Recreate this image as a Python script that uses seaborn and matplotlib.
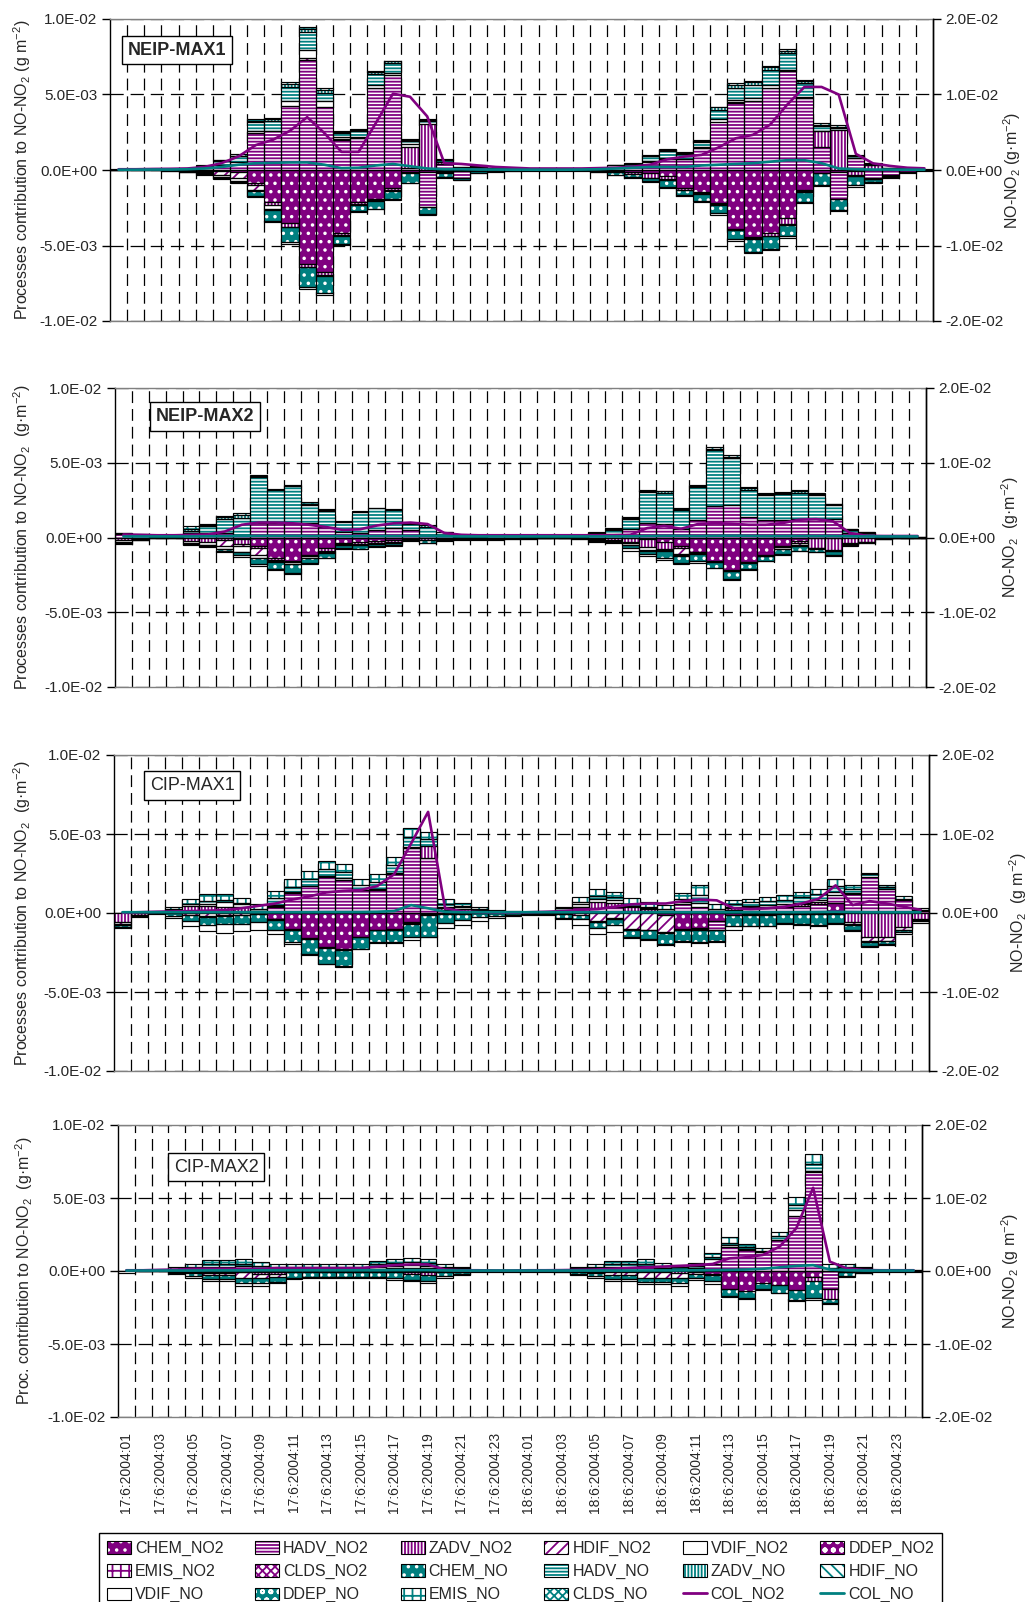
import numpy as np
import matplotlib
matplotlib.use("Agg")
import matplotlib.pyplot as plt
import seaborn as sns
from matplotlib.patches import Patch
from matplotlib.lines import Line2D
from matplotlib.ticker import FixedLocator, FuncFormatter

# ---------------------------------------------------------------------------
# Hourly time steps, 17-18 June 2004
HOURS = [
    "17:6:2004:01", "17:6:2004:02", "17:6:2004:03", "17:6:2004:04", "17:6:2004:05", "17:6:2004:06",
    "17:6:2004:07", "17:6:2004:08", "17:6:2004:09", "17:6:2004:10", "17:6:2004:11", "17:6:2004:12",
    "17:6:2004:13", "17:6:2004:14", "17:6:2004:15", "17:6:2004:16", "17:6:2004:17", "17:6:2004:18",
    "17:6:2004:19", "17:6:2004:20", "17:6:2004:21", "17:6:2004:22", "17:6:2004:23", "17:6:2004:24",
    "18:6:2004:01", "18:6:2004:02", "18:6:2004:03", "18:6:2004:04", "18:6:2004:05", "18:6:2004:06",
    "18:6:2004:07", "18:6:2004:08", "18:6:2004:09", "18:6:2004:10", "18:6:2004:11", "18:6:2004:12",
    "18:6:2004:13", "18:6:2004:14", "18:6:2004:15", "18:6:2004:16", "18:6:2004:17", "18:6:2004:18",
    "18:6:2004:19", "18:6:2004:20", "18:6:2004:21", "18:6:2004:22", "18:6:2004:23", "18:6:2004:24",
]

# Values below are in 1e-3 g m-2
UNIT = 1e-3

# ---------------------------- NEIP-MAX1 ------------------------------------
P1_CHEM_NO2 = [0, 0, 0, -0.03, -0.05, -0.05, -0.05, -0.1, -0.85, -2.1, -3.5, -6.25, -6.75, -4.2, -2.1, -1.9, -1.2, -0.15, -0.1, -0.05, -0.05, -0.02, 0, 0,
               0, 0, 0, 0, -0.02, -0.05, -0.1, -0.2, -0.4, -1.2, -1.45, -2.2, -3.9, -4.45, -4.2, -3.2, -1.35, -0.2, -0.1, -0.05, -0.02, 0, 0, 0]
P1_HADV_NO2 = [0.02, 0.02, 0.03, 0.03, 0.05, 0.12, 0.3, 0.55, 2.45, 2.55, 4.25, 7.3, 4.15, 2.0, 2.1, 5.45, 6.3, 0.1, -2.35, 0.4, -0.45, 0.2, 0.1, 0.05,
               0.02, 0.02, 0.02, 0.02, 0.05, 0.15, 0.25, 0.55, 0.75, 0.7, 1.45, 3.2, 4.45, 4.55, 5.45, 6.55, 4.8, 1.55, -1.8, 0.8, -0.5, -0.35, -0.1, 0.03]
P1_ZADV_NO2 = [0, 0, 0, 0, 0, 0, 0, 0, -0.15, -0.2, -0.25, -0.15, -0.2, -0.1, -0.15, -0.1, -0.15, 1.45, 3.05, 0.15, 0.1, 0.05, 0, 0,
               0, 0, 0, 0, -0.03, -0.1, -0.15, -0.3, -0.2, -0.1, -0.1, -0.05, -0.05, -0.05, -0.15, -0.4, -0.05, 1.0, 2.65, -0.3, 0.3, 0.1, 0.05, 0]
P1_HDIF_NO2 = [0, 0, 0, 0, -0.02, -0.1, -0.3, -0.4, -0.35, 0, 0, 0.1, 0, 0.05, 0, 0, 0, 0, 0, 0, 0, 0, 0, 0,
               0, 0, 0, 0, 0, 0, 0, 0, 0, 0, 0, 0, 0.05, 0.05, 0, 0, 0, 0, 0, 0, 0, 0, 0, 0]
P1_VDIF_NO2 = [0, 0, 0, 0, -0.03, -0.05, -0.1, -0.2, 0.1, -0.3, 0.3, 0.55, 0.4, 0.15, 0.1, 0.15, 0.1, 0.15, 0, -0.1, -0.05, -0.05, -0.03, -0.02,
               0, 0, 0, 0, 0, 0, 0, 0.05, 0.05, 0.05, 0.05, 0.15, 0.15, 0.2, 0.15, 0.1, 0.05, 0.05, 0, -0.05, -0.05, -0.03, 0, 0]
P1_DDEP_NO2 = [0, 0, 0, 0, 0, 0, 0, 0, -0.05, -0.05, -0.05, -0.05, -0.05, -0.05, -0.05, -0.05, -0.05, -0.03, -0.03, -0.02, 0, 0, 0, 0,
               0, 0, 0, 0, 0, 0, -0.02, -0.03, -0.05, -0.05, -0.05, -0.05, -0.05, -0.05, -0.05, -0.05, -0.05, -0.03, -0.03, -0.02, -0.02, 0, 0, 0]
P1_CHEM_NO = [0, 0, 0, -0.03, -0.03, -0.05, -0.1, -0.1, -0.3, -0.7, -1.0, -1.3, -1.15, -0.55, -0.4, -0.5, -0.55, -0.65, -0.45, -0.3, -0.1, -0.1, -0.05, -0.03,
              -0.03, -0.03, -0.03, -0.03, -0.05, -0.15, -0.2, -0.2, -0.45, -0.3, -0.45, -0.55, -0.6, -0.85, -0.8, -0.75, -0.65, -0.75, -0.7, -0.6, -0.2, -0.1, -0.05, -0.03]
P1_HADV_NO = [0, 0, 0, 0.03, 0.03, 0.15, 0.3, 0.35, 0.6, 0.7, 0.95, 1.2, 0.55, 0.25, 0.4, 0.75, 0.7, 0.25, 0.2, 0.1, 0.05, 0.03, 0.02, 0.02,
              0, 0, 0, 0, 0.03, 0.15, 0.15, 0.3, 0.45, 0.3, 0.35, 0.65, 0.8, 0.8, 1.0, 1.1, 0.9, 0.3, 0.15, 0.1, 0.05, 0.02, 0, 0]
P1_ZADV_NO = [0, 0, 0, 0, 0, 0.02, 0.03, 0.05, 0.1, 0.1, 0.2, 0.2, 0.2, 0.05, 0.05, 0.15, 0.1, 0.05, 0.05, 0.03, 0.02, 0, 0, 0,
              0, 0, 0, 0, 0, 0.02, 0.03, 0.05, 0.1, 0.1, 0.1, 0.15, 0.2, 0.2, 0.2, 0.15, 0.15, 0.1, 0.05, 0.02, 0.02, 0, 0, 0]
P1_VDIF_NO = [-0.02, -0.02, -0.03, -0.03, -0.03, -0.05, -0.05, -0.05, -0.1, -0.1, -0.1, -0.1, -0.1, -0.05, -0.05, -0.05, -0.05, -0.05, -0.05, -0.05, -0.03, -0.03, -0.02, -0.02,
              -0.02, -0.02, -0.02, -0.02, -0.02, -0.05, -0.08, -0.07, -0.1, -0.1, -0.1, -0.1, -0.1, -0.1, -0.1, -0.1, -0.1, -0.1, -0.07, -0.1, -0.05, -0.05, -0.03, -0.02]
P1_EMIS_NO = [0.03, 0.03, 0.03, 0.02, 0.02, 0.03, 0.05, 0.1, 0.15, 0.1, 0.1, 0.1, 0.1, 0.05, 0.05, 0.05, 0.05, 0.05, 0.05, 0.05, 0.05, 0.05, 0.03, 0.03,
              0.03, 0.03, 0.03, 0.03, 0.02, 0.03, 0.05, 0.05, 0.05, 0.05, 0.05, 0.05, 0.1, 0.1, 0.1, 0.1, 0.05, 0.1, 0.15, 0.08, 0.08, 0.03, 0.05, 0.02]
P1_COL_NO2 = [0.1, 0.1, 0.14, 0.16, 0.2, 0.4, 0.9, 1.8, 3.3, 4.0, 5.2, 7.0, 4.9, 2.4, 2.4, 6.2, 10.1, 9.7, 7.1, 0.9, 0.8, 0.6, 0.4, 0.3,
              0.2, 0.2, 0.2, 0.2, 0.25, 0.3, 0.44, 0.7, 1.42, 1.78, 2.0, 3.0, 4.2, 4.66, 6.0, 8.66, 11.0, 11.0, 10.0, 2.14, 0.88, 0.54, 0.3, 0.22]
P1_COL_NO = [0.04, 0.04, 0.06, 0.06, 0.1, 0.2, 0.4, 0.7, 0.9, 0.95, 1.0, 1.0, 0.7, 0.25, 0.3, 0.6, 0.8, 0.5, 0.2, 0.1, 0.1, 0.06, 0.06, 0.04,
             0.04, 0.04, 0.04, 0.06, 0.1, 0.2, 0.3, 0.4, 0.4, 0.4, 0.6, 0.7, 0.8, 0.9, 1.1, 1.3, 1.3, 0.9, 0.2, 0.1, 0.06, 0.06, 0.04, 0.04]

# ---------------------------- NEIP-MAX2 ------------------------------------
P2_CHEM_NO2 = [0, 0, 0, 0, 0, 0, -0.05, -0.1, -0.55, -1.4, -1.55, -1.2, -0.7, -0.35, -0.3, -0.25, -0.2, -0.05, -0.05, -0.03, 0, 0, 0, 0,
               0, 0, 0, 0, 0, 0, -0.05, -0.1, -0.3, -0.6, -0.95, -1.6, -2.2, -1.65, -1.2, -0.6, -0.25, -0.05, -0.05, 0, 0, 0, 0, 0]
P2_HADV_NO2 = [0.25, 0.2, 0.05, 0.05, 0.3, 0.3, 0.3, 0.2, 0.95, 1.0, 1.0, 0.95, 0.7, 0.35, 0.3, 0.5, 0.65, 0.5, 0.15, 0.15, 0.05, 0.05, 0.1, 0.1,
               0.02, 0.02, 0.02, 0.03, 0.15, 0.25, 0.6, 0.95, 0.9, 0.6, 1.15, 2.1, 2.15, 1.35, 1.15, 1.15, 1.25, 1.25, 1.25, 0.3, 0.15, 0.05, 0.02, 0.02]
P2_ZADV_NO2 = [-0.2, -0.1, 0, 0, -0.25, -0.3, -0.15, -0.35, -0.15, -0.1, -0.1, -0.05, -0.2, -0.1, -0.15, -0.1, -0.1, -0.05, -0.1, -0.05, -0.05, -0.05, -0.05, -0.03,
               -0.03, -0.01, -0.01, -0.03, -0.1, -0.2, -0.25, -0.55, -0.45, -0.1, -0.05, 0, 0, 0, 0, -0.05, -0.1, -0.65, -0.8, -0.35, -0.3, -0.05, -0.02, -0.02]
P2_HDIF_NO2 = [0, 0, 0, 0, 0, 0, -0.35, -0.1, -0.45, 0, 0, 0, 0, 0, 0, 0, 0, 0, 0, 0, 0, 0, 0, 0,
               0, 0, 0, 0, 0, 0, -0.1, 0, 0, -0.4, 0, 0, 0, 0, 0, 0, -0.15, 0, 0, 0, 0, 0, 0, 0]
P2_VDIF_NO2 = [-0.1, -0.05, 0, 0, -0.1, -0.2, -0.2, -0.4, -0.2, -0.1, -0.1, -0.1, -0.1, -0.05, -0.05, -0.05, -0.05, -0.05, -0.05, -0.05, -0.03, -0.03, -0.03, -0.02,
               -0.02, -0.01, -0.01, -0.02, -0.05, -0.05, -0.1, -0.2, -0.1, -0.1, -0.05, -0.02, -0.03, -0.02, -0.02, -0.1, -0.05, -0.02, -0.03, -0.1, -0.03, -0.02, -0.01, -0.01]
P2_DDEP_NO2 = [0, 0, 0, 0, 0, -0.02, -0.05, -0.05, -0.05, -0.05, -0.05, -0.05, -0.05, -0.02, -0.02, -0.02, -0.02, 0, 0, 0, 0, 0, 0, 0,
               0, 0, 0, 0, 0, 0, -0.03, -0.03, -0.05, -0.05, -0.05, -0.02, -0.02, -0.02, -0.03, -0.05, -0.05, -0.02, -0.02, 0, 0, 0, 0, 0]
P2_CHEM_NO = [-0.05, -0.03, -0.03, -0.03, -0.1, -0.08, -0.1, -0.2, -0.4, -0.45, -0.55, -0.3, -0.3, -0.18, -0.23, -0.18, -0.13, -0.05, -0.15, -0.07, -0.04, -0.04, -0.04, -0.03,
              -0.03, -0.02, -0.02, -0.03, -0.1, -0.08, -0.2, -0.25, -0.5, -0.45, -0.45, -0.4, -0.55, -0.45, -0.3, -0.33, -0.28, -0.2, -0.28, -0.06, -0.03, -0.02, -0.01, -0.01]
P2_HADV_NO = [0.05, 0.03, 0.03, 0.03, 0.15, 0.45, 0.95, 1.1, 3.1, 2.2, 2.45, 1.2, 1.1, 0.7, 1.4, 1.45, 1.2, 0.4, 0.55, 0.2, 0.05, 0.05, 0.05, 0.03,
              0.02, 0.02, 0.02, 0.04, 0.12, 0.28, 0.65, 2.1, 2.1, 1.25, 2.2, 3.75, 3.15, 1.85, 1.7, 1.75, 1.75, 1.6, 0.9, 0.2, 0.15, 0.03, 0.02, 0.02]
P2_ZADV_NO = [0, 0, 0, 0, 0.15, 0.1, 0.15, 0.2, 0.05, 0, 0, 0.1, 0.05, 0.05, 0.05, 0.05, 0.05, 0.1, 0.15, 0.05, 0.05, 0.05, 0.05, 0.02,
              0, 0, 0, 0.01, 0.03, 0.05, 0.05, 0.06, 0.09, 0.07, 0.1, 0.1, 0.1, 0.1, 0.08, 0.08, 0.1, 0.08, 0.06, 0.05, 0.05, 0.01, 0, 0]
P2_VDIF_NO = [-0.1, -0.02, -0.02, -0.02, -0.05, -0.05, -0.1, -0.1, -0.1, -0.1, -0.1, -0.05, -0.05, -0.05, -0.05, -0.05, -0.05, -0.05, -0.05, -0.05, -0.03, -0.03, -0.03, -0.02,
              -0.02, -0.01, -0.01, -0.02, -0.05, -0.05, -0.15, -0.1, -0.1, -0.07, -0.14, -0.02, -0.05, -0.03, -0.02, -0.04, -0.04, -0.05, -0.03, -0.05, -0.02, -0.01, -0.01, -0.01]
P2_EMIS_NO = [0.03, 0.02, 0.02, 0.02, 0.15, 0.05, 0.05, 0.15, 0.05, 0.05, 0.05, 0.1, 0.05, 0, 0, 0, 0, 0, 0, 0, 0, 0, 0, 0,
              0.01, 0.01, 0.01, 0.02, 0.05, 0.05, 0.05, 0.05, 0.05, 0.05, 0.05, 0.1, 0.1, 0.06, 0.05, 0.05, 0.06, 0.05, 0.05, 0.03, 0.05, 0.01, 0.01, 0.01]
P2_COL_NO2 = [0.4, 0.35, 0.3, 0.3, 0.35, 0.4, 0.8, 1.7, 2.0, 2.0, 1.9, 1.7, 1.4, 1.0, 1.1, 1.6, 1.9, 2.0, 1.8, 0.6, 0.36, 0.3, 0.3, 0.3,
              0.3, 0.3, 0.3, 0.3, 0.3, 0.3, 0.36, 1.26, 1.56, 1.16, 1.8, 1.92, 1.84, 1.7, 1.7, 1.92, 2.38, 2.46, 2.16, 0.6, 0.22, 0.2, 0.2, 0.2]
P2_COL_NO = [0.14, 0.14, 0.14, 0.14, 0.14, 0.16, 0.18, 0.2, 0.22, 0.22, 0.22, 0.2, 0.2, 0.18, 0.18, 0.2, 0.2, 0.2, 0.2, 0.16, 0.14, 0.14, 0.14, 0.14,
             0.14, 0.14, 0.14, 0.14, 0.14, 0.14, 0.16, 0.2, 0.22, 0.22, 0.2, 0.22, 0.24, 0.22, 0.2, 0.2, 0.2, 0.2, 0.2, 0.16, 0.14, 0.14, 0.14, 0.14]

# ---------------------------- CIP-MAX1 -------------------------------------
P3_CHEM_NO2 = [0, 0, 0, 0, 0, 0, 0, 0, 0, -0.4, -1.0, -1.6, -2.15, -2.3, -1.5, -1.05, -1.0, -0.55, -0.05, 0, 0, 0, 0, 0,
               0, 0, 0, 0, 0, 0, 0, 0, -0.1, -1.0, -0.95, -0.5, -0.1, -0.05, -0.05, 0, 0, 0, 0.65, 0, 0, 0, 0, 0]
P3_HADV_NO2 = [0, 0.02, 0.02, 0.05, 0.1, 0.1, 0.1, 0.1, 0.1, 0.35, 1.25, 1.7, 2.3, 2.1, 1.45, 1.45, 2.45, 4.1, 3.5, 0.2, 0.15, 0.1, 0.05, 0.03,
               0.02, 0.02, 0.1, 0.35, 0.3, 0.35, 0.1, 0.1, 0.05, 0.55, 0.4, -0.55, 0.2, 0.25, 0.3, 0.35, 0.45, 0.6, 0.5, 1.2, 2.3, 1.55, 0.8, 0.15]
P3_ZADV_NO2 = [-0.6, -0.1, 0, 0.1, 0.35, 0.35, 0.3, 0.3, 0.05, 0.1, 0, 0, 0, 0, 0, 0, 0, 0, 0.75, 0.1, 0.1, 0.05, 0.02, 0.02,
               0, 0, 0.05, 0.05, 0.4, 0.3, 0.3, 0.15, 0.05, 0, 0, 0.1, 0.1, 0.1, 0.1, 0.1, 0.1, 0.1, 0, -0.6, -1.5, -1.5, -0.9, -0.4]
P3_HDIF_NO2 = [-0.1, 0, 0, 0, -0.1, -0.2, -0.15, -0.1, 0, 0, 0, 0, 0, 0, 0, 0, 0, -0.1, 0, 0, 0, 0, 0, 0,
               0, 0, -0.05, -0.1, -0.5, -0.3, -1.0, -1.05, -1.1, 0, -0.05, 0, 0, 0, 0, 0, 0, 0, 0, -0.1, -0.3, -0.25, -0.15, -0.05]
P3_VDIF_NO2 = [0, 0, 0, 0.03, 0.1, 0.15, 0.3, 0.2, 0, 0.05, 0.1, 0, 0.05, 0.1, 0, 0.1, 0.1, 0.1, 0, 0.1, 0.1, 0.05, 0.03, 0.02,
               0, 0, 0.05, 0.15, 0.2, 0.2, 0.05, 0.05, 0.05, 0.15, 0.25, 0.05, 0.1, 0.1, 0.1, 0.1, 0.1, 0.15, 0.2, 0.05, 0, 0, 0, 0]
P3_DDEP_NO2 = [-0.05, 0, 0, -0.02, -0.05, -0.05, -0.05, -0.05, -0.05, -0.05, -0.05, -0.05, -0.05, -0.05, -0.05, -0.05, -0.05, -0.05, -0.05, -0.05, -0.05, -0.02, -0.02, -0.02,
               0, 0, 0, 0, -0.05, -0.05, -0.05, -0.05, -0.05, -0.05, -0.05, -0.05, -0.05, -0.05, -0.05, -0.05, -0.05, -0.05, -0.05, -0.05, -0.05, -0.05, -0.05, 0]
P3_CHEM_NO = [-0.15, -0.1, -0.03, -0.2, -0.35, -0.5, -0.5, -0.55, -0.55, -0.65, -0.8, -0.95, -1.0, -1.0, -0.7, -0.75, -0.8, -0.8, -1.4, -0.6, -0.4, -0.25, -0.15, -0.08,
              -0.07, -0.07, -0.25, -0.3, -0.4, -0.4, -0.5, -0.55, -0.7, -0.75, -0.8, -0.7, -0.7, -0.7, -0.7, -0.6, -0.65, -0.7, -0.6, -0.3, -0.25, -0.15, -0.1, -0.08]
P3_HADV_NO = [0, 0.02, 0.02, 0.07, 0.05, 0.15, 0.1, 0.05, 0.1, 0.45, 0.3, 0.45, 0.45, 0.4, 0.3, 0.4, 0.5, 0.6, 0.45, 0.2, 0.1, 0.05, 0.05, 0.02,
              0.02, 0.02, 0.1, 0.15, 0.2, 0.15, 0.15, 0.1, 0.1, 0.2, 0.5, 0.1, 0.2, 0.25, 0.25, 0.3, 0.35, 0.35, 0.35, 0.25, 0.15, 0.1, 0.1, 0.05]
P3_VDIF_NO = [-0.05, -0.05, -0.02, -0.1, -0.3, -0.4, -0.55, -0.45, -0.45, -0.2, -0.1, -0.05, -0.05, -0.05, -0.05, -0.05, -0.05, -0.2, -0.05, -0.3, -0.3, -0.25, -0.15, -0.1,
              -0.03, -0.03, -0.1, -0.35, -0.35, -0.45, -0.05, -0.05, -0.05, -0.05, -0.05, -0.05, -0.2, -0.05, -0.05, -0.05, -0.05, -0.05, -0.05, -0.1, -0.05, -0.05, -0.1, -0.1]
P3_EMIS_NO = [0, 0.01, 0.01, 0.1, 0.3, 0.45, 0.4, 0.3, 0.3, 0.45, 0.5, 0.5, 0.5, 0.5, 0.4, 0.5, 0.5, 0.6, 0.45, 0.3, 0.2, 0.1, 0.05, 0.01,
              0.01, 0.01, 0.05, 0.3, 0.4, 0.3, 0.35, 0.3, 0.25, 0.35, 0.65, 0.3, 0.2, 0.2, 0.25, 0.3, 0.3, 0.3, 0.45, 0.3, 0.1, 0.1, 0.15, 0.1]
P3_COL_NO2 = [0.04, 0.1, 0.16, 0.2, 0.24, 0.3, 0.36, 0.6, 0.9, 1.2, 1.7, 2.1, 2.6, 2.8, 2.9, 3.4, 4.9, 8.8, 12.8, 0.6, 0.2, 0.1, 0.06, 0.04,
              0.1, 0.16, 0.24, 0.4, 0.5, 0.8, 1.1, 1.2, 1.2, 1.5, 1.7, 1.6, 0.6, 0.5, 0.6, 0.8, 1.2, 1.8, 3.5, 1.0, 1.5, 1.2, 0.8, 0.4]
P3_COL_NO = [0.1, 0.1, 0.1, 0.1, 0.1, 0.1, 0.1, 0.1, 0.1, 0.1, 0.1, 0.1, 0.12, 0.12, 0.12, 0.15, 0.25, 1.0, 0.6, 0.15, 0.1, 0.1, 0.1, 0.1,
             0.1, 0.1, 0.1, 0.1, 0.1, 0.1, 0.1, 0.1, 0.1, 0.1, 0.1, 0.1, 0.1, 0.1, 0.1, 0.1, 0.1, 0.12, 0.15, 0.12, 0.1, 0.1, 0.1, 0.1]

# ---------------------------- CIP-MAX2 -------------------------------------
P4_CHEM_NO2 = [0, 0, 0, 0, 0, -0.05, -0.05, -0.05, -0.05, -0.05, 0, 0, 0, 0, 0, 0, 0, -0.05, -0.05, 0, 0, 0, 0, 0,
               0, 0, 0, 0, 0, 0, 0, 0, 0, 0, 0, -0.2, -1.2, -1.35, -0.8, -0.95, -1.3, -0.4, 0, 0, 0, 0, 0, 0]
P4_HADV_NO2 = [0, 0.01, 0.01, 0.05, 0.1, 0.15, 0.15, 0.2, 0.1, 0.1, 0.1, 0.1, 0.1, 0.1, 0.1, 0.15, 0.2, 0.2, 0.2, 0.1, 0.05, 0.02, 0.02, 0.02,
               0.01, 0.01, 0.03, 0.1, 0.15, 0.2, 0.2, 0.25, 0.15, 0.1, 0.15, 0.5, 1.65, 1.45, 1.3, 2.1, 3.75, 6.8, -1.2, 0.1, 0.1, 0.02, 0.02, 0.02]
P4_ZADV_NO2 = [0, 0, 0, -0.05, -0.1, -0.1, -0.1, -0.05, -0.15, -0.15, -0.1, -0.05, -0.05, -0.05, -0.05, -0.05, -0.1, -0.15, -0.2, -0.1, -0.05, 0, 0, 0,
               0, 0, -0.02, -0.05, -0.05, -0.1, -0.1, -0.1, -0.1, -0.15, -0.1, -0.1, 0, 0, 0, 0, 0, -0.3, -0.75, -0.1, -0.05, 0, 0, 0]
P4_HDIF_NO2 = [0, 0, 0, 0, -0.05, -0.1, -0.1, -0.4, -0.3, -0.2, 0, 0, 0, 0, 0, 0, 0, 0, 0, 0, 0, 0, 0, 0,
               0, 0, 0, 0, -0.1, -0.2, -0.2, -0.35, -0.35, -0.35, -0.1, 0, 0, 0, 0, 0, 0, 0, 0, 0, 0, 0, 0, 0]
P4_VDIF_NO2 = [0, 0, 0, 0.05, 0.1, 0.15, 0.15, 0.15, 0.1, 0.05, 0.05, 0.05, 0.05, 0.05, 0.05, 0.1, 0.15, 0.2, 0.15, 0.1, 0.05, 0, 0, 0,
               0, 0, 0.02, 0.05, 0.05, 0.1, 0.1, 0.1, 0.07, 0.05, 0.07, 0.3, 0.15, 0.05, 0.03, 0.05, 0.45, 0.03, 0.03, 0.03, 0, 0, 0, 0]
P4_CHEM_NO = [0, -0.01, -0.01, -0.1, -0.2, -0.3, -0.3, -0.35, -0.35, -0.35, -0.35, -0.35, -0.35, -0.35, -0.35, -0.35, -0.4, -0.4, -0.45, -0.25, -0.15, -0.02, -0.02, -0.02,
              -0.03, -0.03, -0.05, -0.15, -0.2, -0.25, -0.25, -0.3, -0.3, -0.35, -0.3, -0.4, -0.5, -0.5, -0.45, -0.55, -0.7, -1.15, -0.25, -0.24, -0.08, -0.03, -0.03, -0.03]
P4_HADV_NO = [0, 0.01, 0.01, 0.05, 0.1, 0.15, 0.15, 0.15, 0.15, 0.1, 0.1, 0.15, 0.15, 0.15, 0.15, 0.2, 0.2, 0.2, 0.2, 0.1, 0.1, 0.02, 0.02, 0.02,
              0.01, 0.01, 0.02, 0.05, 0.1, 0.15, 0.15, 0.15, 0.1, 0.1, 0.1, 0.16, 0.15, 0.11, 0.07, 0.25, 0.35, 0.5, 0.2, 0.15, 0.1, 0.02, 0.02, 0.02]
P4_VDIF_NO = [-0.15, -0.01, -0.01, -0.05, -0.1, -0.15, -0.15, -0.15, -0.15, -0.1, -0.1, -0.1, -0.1, -0.1, -0.1, -0.1, -0.1, -0.1, -0.1, -0.1, -0.05, -0.03, -0.03, -0.03,
              -0.02, -0.02, -0.03, -0.1, -0.1, -0.12, -0.12, -0.15, -0.15, -0.15, -0.12, -0.2, -0.07, -0.08, -0.05, -0.04, -0.04, -0.15, -0.07, -0.1, -0.03, -0.02, -0.02, -0.02]
P4_EMIS_NO = [0, 0, 0, 0.1, 0.2, 0.3, 0.3, 0.35, 0.25, 0.2, 0.2, 0.2, 0.2, 0.2, 0.2, 0.25, 0.3, 0.3, 0.25, 0.15, 0.1, 0.01, 0.01, 0.01,
              0, 0, 0.03, 0.1, 0.2, 0.25, 0.25, 0.3, 0.25, 0.15, 0.25, 0.3, 0.41, 0.25, 0.2, 0.3, 0.5, 0.7, 0.25, 0.2, 0.1, 0.01, 0.01, 0.01]
P4_COL_NO2 = [0.1, 0.1, 0.16, 0.2, 0.3, 0.3, 0.3, 0.3, 0.3, 0.4, 0.4, 0.4, 0.4, 0.4, 0.4, 0.6, 0.8, 0.9, 0.9, 0.2, 0.1, 0.1, 0.06, 0.06,
              0.1, 0.1, 0.12, 0.16, 0.2, 0.3, 0.4, 0.5, 0.6, 0.7, 0.8, 0.96, 1.74, 1.88, 2.2, 3.34, 5.88, 11.4, 1.28, 0.36, 0.14, 0.1, 0.1, 0.1]
P4_COL_NO = [0.06, 0.06, 0.06, 0.06, 0.06, 0.08, 0.08, 0.08, 0.1, 0.1, 0.1, 0.1, 0.1, 0.1, 0.1, 0.1, 0.12, 0.12, 0.12, 0.08, 0.06, 0.06, 0.06, 0.06,
             0.06, 0.06, 0.06, 0.06, 0.06, 0.06, 0.06, 0.08, 0.08, 0.08, 0.1, 0.12, 0.15, 0.2, 0.3, 0.5, 0.7, 0.8, 0.2, 0.1, 0.06, 0.06, 0.06, 0.06]

# ---------------------------------------------------------------------------
PURPLE = "#800080"
TEAL = "#008080"

# process name -> (face colour, hatch, hatch colour); also the stacking order
STYLE = {
    "CHEM_NO2": (PURPLE, "..", "white"),
    "HADV_NO2": ("white", "-----", PURPLE),
    "ZADV_NO2": ("white", "|||||", PURPLE),
    "HDIF_NO2": ("white", "///", PURPLE),
    "VDIF_NO2": ("white", None, "white"),
    "DDEP_NO2": (PURPLE, "oo", "white"),
    "EMIS_NO2": ("white", "++", PURPLE),
    "CLDS_NO2": ("white", "xxxx", PURPLE),
    "CHEM_NO": (TEAL, "..", "white"),
    "HADV_NO": ("white", "-----", TEAL),
    "ZADV_NO": ("white", "|||||", TEAL),
    "HDIF_NO": ("white", "\\\\\\", TEAL),
    "VDIF_NO": ("white", None, "white"),
    "DDEP_NO": (TEAL, "oo", "white"),
    "EMIS_NO": ("white", "++", TEAL),
    "CLDS_NO": ("white", "xxxx", TEAL),
}
ORDER = list(STYLE.keys())

PANELS = [
    dict(title="NEIP-MAX1", bold=True, frame=(110, 933, 19, 321), box=(0.081, 0.897),
         ylabel="Processes contribution to NO-NO$_2$ (g m$^{-2}$)",
         rlabel="NO-NO$_2$ (g·m$^{-2}$)", lx=22, rx=1012,
         series={"CHEM_NO2": P1_CHEM_NO2, "HADV_NO2": P1_HADV_NO2, "ZADV_NO2": P1_ZADV_NO2,
                 "HDIF_NO2": P1_HDIF_NO2, "VDIF_NO2": P1_VDIF_NO2, "DDEP_NO2": P1_DDEP_NO2,
                 "CHEM_NO": P1_CHEM_NO, "HADV_NO": P1_HADV_NO, "ZADV_NO": P1_ZADV_NO,
                 "VDIF_NO": P1_VDIF_NO, "EMIS_NO": P1_EMIS_NO},
         col_no2=P1_COL_NO2, col_no=P1_COL_NO),
    dict(title="NEIP-MAX2", bold=True, frame=(115, 926, 388, 687), box=(0.111, 0.905),
         ylabel="Processes contribution to NO-NO$_2$  (g·m$^{-2}$)",
         rlabel="NO-NO$_2$  (g·m$^{-2}$)", lx=22, rx=1010,
         series={"CHEM_NO2": P2_CHEM_NO2, "HADV_NO2": P2_HADV_NO2, "ZADV_NO2": P2_ZADV_NO2,
                 "HDIF_NO2": P2_HDIF_NO2, "VDIF_NO2": P2_VDIF_NO2, "DDEP_NO2": P2_DDEP_NO2,
                 "CHEM_NO": P2_CHEM_NO, "HADV_NO": P2_HADV_NO, "ZADV_NO": P2_ZADV_NO,
                 "VDIF_NO": P2_VDIF_NO, "EMIS_NO": P2_EMIS_NO},
         col_no2=P2_COL_NO2, col_no=P2_COL_NO),
    dict(title="CIP-MAX1", bold=False, frame=(114, 929, 755, 1071), box=(0.096, 0.903),
         ylabel="Processes contribution to NO-NO$_2$  (g·m$^{-2}$)",
         rlabel="NO-NO$_2$  (g m$^{-2}$)", lx=22, rx=1018,
         series={"CHEM_NO2": P3_CHEM_NO2, "HADV_NO2": P3_HADV_NO2, "ZADV_NO2": P3_ZADV_NO2,
                 "HDIF_NO2": P3_HDIF_NO2, "VDIF_NO2": P3_VDIF_NO2, "DDEP_NO2": P3_DDEP_NO2,
                 "CHEM_NO": P3_CHEM_NO, "HADV_NO": P3_HADV_NO,
                 "VDIF_NO": P3_VDIF_NO, "EMIS_NO": P3_EMIS_NO},
         col_no2=P3_COL_NO2, col_no=P3_COL_NO),
    dict(title="CIP-MAX2", bold=False, frame=(118, 922, 1125, 1417), box=(0.122, 0.856),
         ylabel="Proc. contribution to NO-NO$_2$  (g·m$^{-2}$)",
         rlabel="NO-NO$_2$ (g m$^{-2}$)", lx=24, rx=1010,
         series={"CHEM_NO2": P4_CHEM_NO2, "HADV_NO2": P4_HADV_NO2, "ZADV_NO2": P4_ZADV_NO2,
                 "HDIF_NO2": P4_HDIF_NO2, "VDIF_NO2": P4_VDIF_NO2,
                 "CHEM_NO": P4_CHEM_NO, "HADV_NO": P4_HADV_NO,
                 "VDIF_NO": P4_VDIF_NO, "EMIS_NO": P4_EMIS_NO},
         col_no2=P4_COL_NO2, col_no=P4_COL_NO),
]

# ---------------------------------------------------------------------------
sns.set_theme(style="white")
plt.rcParams["font.family"] = ["Liberation Sans", "DejaVu Sans"]
plt.rcParams.update({
    "mathtext.fontset": "custom",
    "mathtext.rm": "Liberation Sans",
    "mathtext.it": "Liberation Sans:italic",
    "mathtext.bf": "Liberation Sans:bold",
    "hatch.linewidth": 1.3,
    "lines.scale_dashes": False,
    "patch.force_edgecolor": False,
})

W, H = 1032, 1602
fig = plt.figure(figsize=(W / 100, H / 100), dpi=100)
fig.patch.set_facecolor("white")

X = np.arange(len(HOURS))
sci = FuncFormatter(lambda v, p: f"{v:.1E}")

for k, p in enumerate(PANELS):
    l, r, t, b = p["frame"]
    ax = fig.add_axes([l / W, 1 - b / H, (r - l) / W, (b - t) / H])
    ax.set_facecolor("white")
    ax.set_axisbelow(True)

    # stacked process contributions (positive up, negative down)
    pos = np.zeros(len(X))
    neg = np.zeros(len(X))
    for name in ORDER:
        if name not in p["series"]:
            continue
        vals = np.asarray(p["series"][name], dtype=float) * UNIT
        face, hatch, hcol = STYLE[name]
        base = np.where(vals >= 0, pos, neg)
        m = vals != 0
        ax.bar(X[m], vals[m], bottom=base[m], width=1.0, color=face, hatch=hatch,
               edgecolor=hcol, linewidth=0, zorder=2)
        ax.bar(X[m], vals[m], bottom=base[m], width=1.0, fill=False,
               edgecolor="black", linewidth=0.85, zorder=2.2)
        pos += np.where(vals > 0, vals, 0)
        neg += np.where(vals < 0, vals, 0)

    ax.axhline(0, color="black", lw=0.9, zorder=1.8)

    ax.set_xlim(-0.5, len(X) - 0.5)
    ax.set_ylim(-0.01, 0.01)
    ax.yaxis.set_major_locator(FixedLocator([-0.01, -0.005, 0.0, 0.005, 0.01]))
    ax.yaxis.set_major_formatter(sci)
    ax.grid(axis="y", which="major", color="black", lw=0.9, linestyle=(0, (9.5, 5)))
    ax.xaxis.set_minor_locator(FixedLocator(np.arange(0.5, len(X) - 1, 1.0)))
    ax.grid(axis="x", which="minor", color="black", lw=0.9, linestyle=(0, (8.5, 4.3)))
    ax.grid(axis="x", which="major", visible=False)
    ax.set_xticks(X[::2])
    ax.tick_params(axis="x", which="both", length=0)
    if k == len(PANELS) - 1:
        ax.set_xticklabels(HOURS[::2], rotation=90, fontsize=10, va="top", ha="center")
        ax.tick_params(axis="x", pad=11)
    else:
        ax.tick_params(axis="x", labelbottom=False)
    ax.tick_params(axis="y", which="major", direction="out", length=6, width=1,
                   color="black", labelsize=11, pad=3, left=True)

    for side in ("top", "bottom"):
        ax.spines[side].set_color("#808080")
        ax.spines[side].set_linewidth(1.0)
    for side in ("left", "right"):
        ax.spines[side].set_color("black")
        ax.spines[side].set_linewidth(1.0)

    ax.set_ylabel(p["ylabel"], fontsize=11.5)
    ax.yaxis.label.set_va("center")
    ax.yaxis.set_label_coords((p["lx"] - l) / (r - l), 0.5)

    ax.text(p["box"][0], p["box"][1], p["title"], transform=ax.transAxes,
            ha="center", va="center", fontsize=13,
            fontweight="bold" if p["bold"] else "normal", zorder=5,
            bbox=dict(boxstyle="square,pad=0.32", fc="white", ec="black", lw=1.0))

    # column burdens on the secondary axis
    ax2 = ax.twinx()
    sns.lineplot(x=X, y=np.asarray(p["col_no2"]) * UNIT, ax=ax2, color=PURPLE,
                 linewidth=1.9, estimator=None, sort=False, legend=False)
    sns.lineplot(x=X, y=np.asarray(p["col_no"]) * UNIT, ax=ax2, color=TEAL,
                 linewidth=1.9, estimator=None, sort=False, legend=False)
    ax2.set_ylim(-0.02, 0.02)
    ax2.set_xlim(-0.5, len(X) - 0.5)
    ax2.yaxis.set_major_locator(FixedLocator([-0.02, -0.01, 0.0, 0.01, 0.02]))
    ax2.yaxis.set_major_formatter(sci)
    ax2.tick_params(axis="y", direction="out", length=6, width=1, color="black",
                    labelsize=11, pad=3, right=True)
    ax2.grid(False)
    for side in ("top", "bottom"):
        ax2.spines[side].set_visible(False)
    ax2.spines["left"].set_visible(False)
    ax2.spines["right"].set_color("black")
    ax2.spines["right"].set_linewidth(1.0)
    ax2.set_xlabel("")
    ax2.set_ylabel(p["rlabel"], fontsize=11.5, rotation=90)
    ax2.yaxis.label.set_va("center")
    ax2.yaxis.set_label_coords((p["rx"] - l) / (r - l), 0.5)

# ------------------------------- legend -------------------------------------
handles, labels = [], []
for name in ORDER:
    face, hatch, hcol = STYLE[name]
    handles.append((Patch(facecolor=face, hatch=hatch, edgecolor=hcol, linewidth=0),
                    Patch(facecolor="none", edgecolor="black", linewidth=0.8)))
    labels.append(name)
handles.append(Line2D([], [], color=PURPLE, lw=2))
labels.append("COL_NO2")
handles.append(Line2D([], [], color=TEAL, lw=2))
labels.append("COL_NO")

ncol, nrow = 6, 3
order = [rr * ncol + cc for cc in range(ncol) for rr in range(nrow)]
leg = fig.legend([handles[i] for i in order], [labels[i] for i in order],
                 ncol=ncol, loc="upper left", mode="expand",
                 bbox_to_anchor=(99 / W, 0.0, 843 / W, (H - 1533) / H),
                 borderaxespad=0, fontsize=11.5, handlelength=1.5, handleheight=0.8,
                 handletextpad=0.25, labelspacing=0.5, borderpad=0.5,
                 columnspacing=0.5, frameon=True, fancybox=False, framealpha=1)
leg.get_frame().set_edgecolor("black")
leg.get_frame().set_linewidth(1.0)

fig.savefig("out.png", dpi=100, facecolor="white")
